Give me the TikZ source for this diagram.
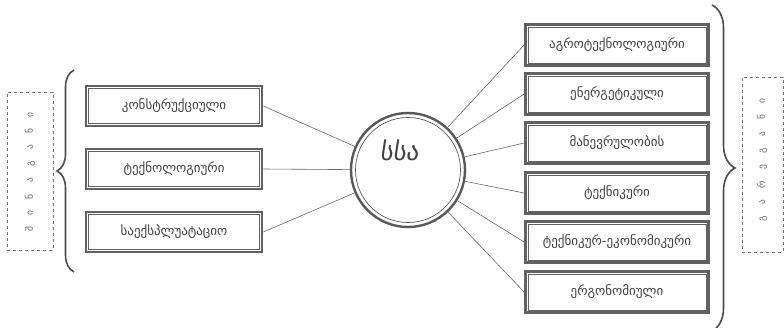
\documentclass[tikz,border=0pt]{standalone}
\usepackage{fontspec}
\newfontfamily\geo{DejaVu Sans}
\usetikzlibrary{decorations.pathreplacing}
\begin{document}
\begin{tikzpicture}[x=1pt,y=-1pt,
  box/.style={draw=black!62, line width=2.8pt, inner sep=0pt, fill=white,
    font=\geo\fontsize{13}{15}\selectfont, text=black!75},
  lbox/.style={box, minimum width=176pt, minimum height=40pt},
  rbox/.style={box, minimum width=183pt, minimum height=41pt},
  link/.style={draw=black!60, line width=0.6pt},
  dbox/.style={draw=black!55, dashed, line width=0.7pt, dash pattern=on 3pt off 3pt},
  vtext/.style={font=\geo\fontsize{9.5}{11}\selectfont\addfontfeature{LetterSpace=120}, text=black!60, rotate=90},
  brc/.style={draw=black!70, line width=1.6pt, decorate}
]
\useasboundingbox (0,0) rectangle (784,327);

% centre circle
\node[circle, draw=black!65, line width=2.4pt, minimum size=114pt, inner sep=0pt, fill=white] (C) at (408,170) {};
\draw[black!65, line width=0.7pt] (C.center) circle[radius=52.5pt];
\node[font=\geo\fontsize{25}{28}\selectfont\addfontfeature{FakeSlant=0.15}, text=black!75] (CT) at (399,150) {სსა};

% left boxes
\node[lbox] (L1) at (174,106) {კონსტრუქციული};
\node[lbox] (L2) at (174,169) {ტექნოლოგიური};
\node[lbox] (L3) at (174,232) {საექსპლუატაციო};

% right boxes
\node[rbox] (R1) at (617,45) {აგროტექნოლოგიური};
\node[rbox] (R2) at (617,94) {ენერგეტიკული};
\node[rbox] (R3) at (617,143) {მანევრულობის};
\node[rbox] (R4) at (617,193) {ტექნიკური};
\node[rbox] (R5) at (617,242) {ტექნიკურ-ეკონომიკური};
\node[rbox] (R6) at (617,292) {ერგონომიული};

\foreach \n in {L1,L2,L3,R1,R2,R3,R4,R5,R6}
  \draw[black!62, line width=0.7pt] ([shift={(4pt,4pt)}]\n.south west) rectangle ([shift={(-4pt,-4pt)}]\n.north east);

% connectors
\foreach \n in {L1,L2,L3} \draw[link] (\n.east) -- (C);
\foreach \n in {R1,R2,R3,R4,R5,R6} \draw[link] (C) -- (\n.west);

% braces
\coordinate (LB1) at (74,272);
\coordinate (LB2) at (74,70);
\draw[brc, decoration={brace, amplitude=17pt, aspect=0.5}] (LB1) -- (LB2);
\coordinate (RB1) at (712,5);
\coordinate (RB2) at (712,331);
\draw[brc, decoration={brace, amplitude=23pt, aspect=0.5}] (RB1) -- (RB2);

% dashed side boxes
\node[dbox, minimum width=46pt, minimum height=158pt] (DL) at (30,171) {};
\node[vtext] (TL) at (30,172) {შინაგანი};
\node[dbox, minimum width=41pt, minimum height=175pt] (DR) at (762.5,164.5) {};
\node[vtext] (TR) at (762,160) {გარეგანი};
\end{tikzpicture}
\end{document}
